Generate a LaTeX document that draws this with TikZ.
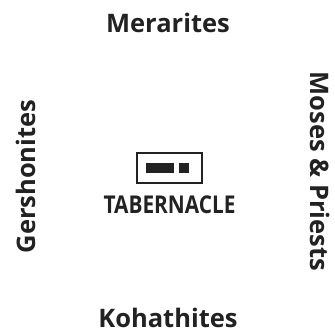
\documentclass[tikz,border=0pt]{standalone}
\usepackage{fontspec}
\setmainfont{Open Sans}
\definecolor{ink}{HTML}{222222}
\tikzset{
  lbl/.style={inner sep=0pt, text=ink, font=\fontsize{25.5}{30}\selectfont\bfseries},
  tlbl/.style={inner sep=0pt, text=ink, font=\fontsize{24.5}{28}\selectfont\bfseries},
  tent/.style={draw=ink, line width=2pt, inner sep=0pt, minimum width=65pt, minimum height=30pt},
  blk/.style={fill=ink, inner sep=0pt}
}
\begin{document}
\begin{tikzpicture}[x=1pt,y=-1pt]
\useasboundingbox (0,0) rectangle (335,335);
\node[lbl, anchor=base] (mer) at (168,32) {Merarites};
\node[lbl, anchor=base] (koh) at (168,327) {Kohathites};
\node[lbl, rotate=90, anchor=base] (ger) at (35,176.5) {Gershonites};
\node[lbl, rotate=-90, anchor=base] (mos) at (310,171.5) {Moses \& Priests};
\node[tent] (box) at (169.5,168) {};
\node[blk, minimum width=28pt, minimum height=10pt] (bar) at (160,168) {};
\node[blk, minimum width=10pt, minimum height=10pt] (sq) at (184,168) {};
\node[tlbl, anchor=base] (tab) at (169.5,213) {\scalebox{0.85}[1]{TABERNACLE}};
\end{tikzpicture}
\end{document}
